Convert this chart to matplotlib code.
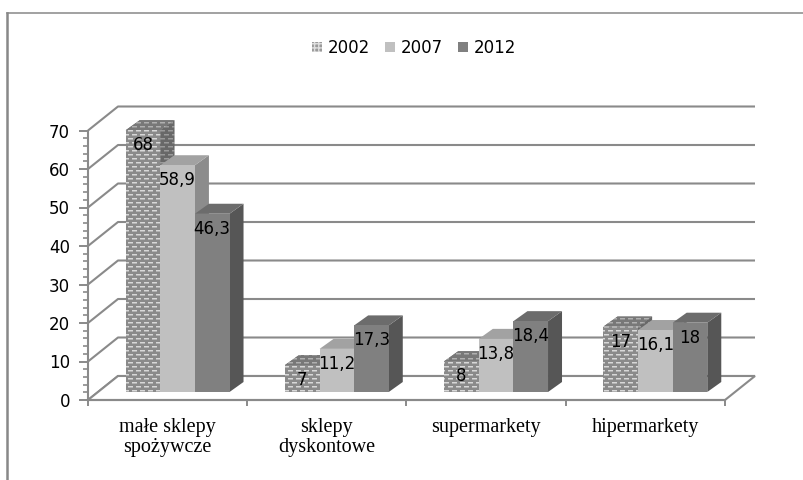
import numpy as np
import matplotlib
matplotlib.use("Agg")
import matplotlib.pyplot as plt
from matplotlib.patches import Polygon, Patch
from matplotlib.lines import Line2D
from matplotlib.colors import to_rgb

# ---------------- data ----------------
categories = ["małe sklepy\nspożywcze", "sklepy\ndyskontowe", "supermarkety", "hipermarkety"]
years = ["2002", "2007", "2012"]
v2002 = [68, 7, 8, 17]
v2007 = [58.9, 11.2, 13.8, 16.1]
v2012 = [46.3, 17.3, 18.4, 18]
yticks = [0, 10, 20, 30, 40, 50, 60, 70]
series = [v2002, v2007, v2012]

# ---------------- styles ----------------
GRID = "#8a8a8a"
front_cols = ["#8a8a8a", "#c0c0c0", "#808080"]
top_cols = ["#787878", "#a2a2a2", "#6c6c6c"]
side_cols = ["#686868", "#8c8c8c", "#565656"]
pat_light = {"front": "#d8d8d8", "top": "#b0b0b0", "side": "#9a9a9a"}

W, H, DPI = 804, 480, 100
fig = plt.figure(figsize=(W / DPI, H / DPI), dpi=DPI, facecolor="white")
ax = fig.add_axes([0, 0, 1, 1])
ax.patch.set_visible(False)

# pixel anchors of the front plane (layout)
X0_PX, X4_PX, Y0_PX, Y70_PX = 88.0, 725.0, 400.0, 130.5
ncat = len(categories)
sx = (X4_PX - X0_PX) / ncat
sy = (Y0_PX - Y70_PX) / 70.0
ax.set_xlim(-X0_PX / sx, (W - X0_PX) / sx)
ax.set_ylim(-(H - Y0_PX) / sy, Y0_PX / sy)
ax.set_autoscale_on(False)

def dx(p):
    return p / sx

def dy(p):
    return p / sy

FD = (dx(30), dy(24))   # floor depth
BF = (dx(10), dy(8))    # bar front plane offset
BD = (dx(14), dy(10))   # bar depth
BW = dx(34.6)           # bar width

# ---------------- walls & floor ----------------
for v in yticks:
    ax.plot([0, FD[0], ncat + FD[0]], [v, v + FD[1], v + FD[1]],
            color=GRID, lw=1.5, zorder=1, solid_capstyle="butt")
floor = Polygon([(0, 0), (ncat, 0), (ncat + FD[0], FD[1]), (FD[0], FD[1])],
                closed=True, facecolor="white", edgecolor=GRID, lw=1.5, zorder=2)
ax.add_patch(floor)

# ---------------- textured polygon helper ----------------
def textured(verts, base, light, z):
    poly = Polygon(verts, closed=True, facecolor=base, edgecolor="none", zorder=z)
    ax.add_patch(poly)
    pts = ax.transData.transform(np.asarray(verts))
    x0, y0 = np.floor(pts.min(0))
    x1, y1 = np.ceil(pts.max(0))
    w, h = int(x1 - x0), int(y1 - y0)
    rows = (H - y1) + np.arange(h)[:, None]
    cols = x0 + np.arange(w)[None, :]
    shift = ((rows // 4) % 2) * 4
    dash = ((cols + shift) % 8) < 5
    img = np.empty((h, w, 3))
    img[:] = to_rgb(base)
    img[(rows % 4 == 2) & dash] = to_rgb(light)
    mid = tuple((np.array(to_rgb(base)) + np.array(to_rgb(light))) / 2)
    img[(rows % 4 == 3) & dash] = mid
    inv = ax.transData.inverted()
    (ex0, ey0), (ex1, ey1) = inv.transform([(x0, y0), (x1, y1)])
    im = ax.imshow(img, extent=(ex0, ex1, ey0, ey1), origin="upper",
                   interpolation="nearest", aspect="auto", zorder=z + 0.01)
    im.set_clip_path(poly)
    im.set_clip_box(None)
    return poly

def plain(verts, color, z):
    ax.add_patch(Polygon(verts, closed=True, facecolor=color, edgecolor="none", zorder=z))

# ---------------- bars ----------------
z = 3
for i in range(ncat):
    for j, vals in enumerate(series):
        v = vals[i]
        xl = i + 0.5 + BF[0] + (j - 1.5) * BW
        xr = xl + BW
        b = BF[1]
        t = BF[1] + v
        front = [(xl, b), (xr, b), (xr, t), (xl, t)]
        top = [(xl, t), (xr, t), (xr + BD[0], t + BD[1]), (xl + BD[0], t + BD[1])]
        side = [(xr, b), (xr + BD[0], b + BD[1]), (xr + BD[0], t + BD[1]), (xr, t)]
        if j == 0:
            textured(side, side_cols[j], pat_light["side"], z)
            textured(top, top_cols[j], pat_light["top"], z + 0.1)
            textured(front, front_cols[j], pat_light["front"], z + 0.2)
        else:
            plain(side, side_cols[j], z)
            plain(top, top_cols[j], z + 0.1)
            plain(front, front_cols[j], z + 0.2)
        lab = f"{v:g}".replace(".", ",")
        ax.annotate(lab, xy=((xl + xr) / 2, t), xytext=(0, -15),
                    textcoords="offset pixels", ha="center", va="center",
                    fontsize=12, color="black", zorder=50,
                    family=["DejaVu Sans"])
        z += 1

# ---------------- axes ----------------
for s in ["top", "right"]:
    ax.spines[s].set_visible(False)
ax.spines["left"].set_position(("data", 0))
ax.spines["left"].set_bounds(0, 70)
ax.spines["bottom"].set_position(("data", 0))
ax.spines["bottom"].set_bounds(0, ncat)
for s in ["left", "bottom"]:
    ax.spines[s].set_color(GRID)
    ax.spines[s].set_linewidth(1.5)
    ax.spines[s].set_zorder(2.5)

ax.set_yticks(yticks)
ax.set_yticklabels([str(t) for t in yticks])
ax.set_yticks(np.arange(0, 71, 2), minor=True)
ax.tick_params(axis="y", which="major", direction="out", length=6.5, width=1.4,
               color=GRID, pad=6.5, labelsize=12)
ax.tick_params(axis="y", which="minor", direction="out", length=3.6, width=1.2,
               color=GRID)

ax.set_xticks(np.arange(0, ncat + 1))
ax.set_xticklabels([""] * (ncat + 1))
ax.set_xticks(np.arange(ncat) + 0.5, minor=True)
ax.set_xticklabels(categories, minor=True, fontfamily="Liberation Serif", fontsize=14.5,
                   linespacing=1.05)
ax.tick_params(axis="x", which="major", direction="out", length=4, width=1.4, color=GRID)
ax.tick_params(axis="x", which="minor", length=0, pad=13)

# ---------------- legend ----------------
handles = [
    Patch(facecolor="#9a9a9a", edgecolor="#dedede", hatch="++++", linewidth=0),
    Patch(facecolor=front_cols[1], edgecolor="none"),
    Patch(facecolor=front_cols[2], edgecolor="none"),
]
fig.legend(handles, years, loc="center", bbox_to_anchor=(0.515, 0.9), ncol=3,
           frameon=False, fontsize=12, handlelength=0.6, handleheight=0.6,
           handletextpad=0.35, columnspacing=0.9)

# ---------------- outer frame (left & top visible) ----------------
fig.add_artist(Line2D([7 / W, 7 / W], [0, 1 - 13 / H], color="#888888", lw=1.8,
                      transform=fig.transFigure))
fig.add_artist(Line2D([7 / W, 1], [1 - 13 / H, 1 - 13 / H], color="#888888", lw=1.1,
                      transform=fig.transFigure))

fig.savefig("out.png", dpi=DPI, facecolor="white")
